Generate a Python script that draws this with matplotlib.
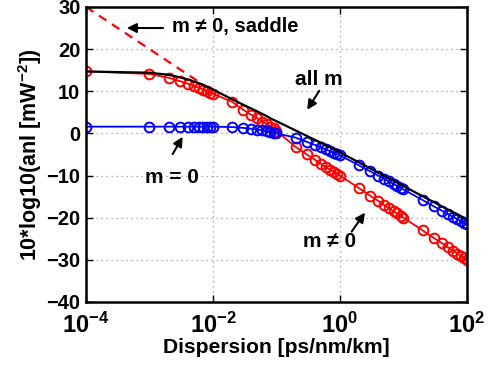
import numpy as np
import matplotlib
matplotlib.use("Agg")
import matplotlib.pyplot as plt
from matplotlib.ticker import NullLocator, FixedLocator

plt.rcParams['font.family'] = ['Liberation Sans', 'DejaVu Sans']
plt.rcParams['font.weight'] = 'bold'
plt.rcParams['mathtext.fontset'] = 'custom'
plt.rcParams['mathtext.rm'] = 'Liberation Sans:bold'
plt.rcParams['mathtext.it'] = 'Liberation Sans:bold'
plt.rcParams['mathtext.bf'] = 'Liberation Sans:bold'

# dispersion grid [ps/nm/km]
disp = np.array([1e-4,
                 1e-3, 2e-3, 3e-3, 4e-3, 5e-3, 6e-3, 7e-3, 8e-3, 9e-3,
                 1e-2, 2e-2, 3e-2, 4e-2, 5e-2, 6e-2, 7e-2, 8e-2, 9e-2,
                 1e-1, 2e-1, 3e-1, 4e-1, 5e-1, 6e-1, 7e-1, 8e-1, 9e-1,
                 1e0, 2e0, 3e0, 4e0, 5e0, 6e0, 7e0, 8e0, 9e0,
                 1e1, 2e1, 3e1, 4e1, 5e1, 6e1, 7e1, 8e1, 9e1,
                 1e2])

# 10*log10(anl) for all modes, m = 0 only, m != 0 only
all_m = [14.7,
         14.4, 13.9, 13.3, 12.8, 12.3, 11.9, 11.5, 11.1, 10.8,
         10.4, 8.1, 6.8, 5.9, 5.2, 4.6, 4.1, 3.6, 3.2,
         2.9, 0.7, -0.6, -1.5, -2.2, -2.8, -3.3, -3.7, -4.1,
         -4.5, -6.9, -8.3, -9.3, -10.1, -10.7, -11.2, -11.7, -12.1,
         -12.5, -14.9, -16.3, -17.3, -18.1, -18.7, -19.2, -19.7, -20.1,
         -20.5]
m_zero = [1.6,
          1.6, 1.6, 1.6, 1.6, 1.6, 1.6, 1.6, 1.6, 1.6,
          1.6, 1.5, 1.3, 1.1, 0.9, 0.7, 0.5, 0.3, 0.2,
          0.0, -1.0, -2.0, -2.7, -3.3, -3.8, -4.2, -4.6, -4.9,
          -5.2, -7.6, -9.0, -10.0, -10.8, -11.4, -12.0, -12.5, -12.9,
          -13.3, -15.8, -17.3, -18.3, -19.1, -19.8, -20.3, -20.8, -21.2,
          -21.5]
m_nonzero = [14.7,
             14.1, 13.2, 12.4, 11.8, 11.2, 10.8, 10.4, 10.0, 9.7,
             9.4, 7.5, 5.6, 4.4, 3.6, 2.8, 2.2, 1.6, 1.2,
             0.6, -3.2, -5.0, -6.2, -7.2, -8.0, -8.6, -9.1, -9.6,
             -10.0, -13.0, -14.8, -16.0, -17.0, -17.8, -18.5, -19.0, -19.5,
             -20.0, -23.0, -24.8, -26.0, -27.0, -27.8, -28.5, -29.0, -29.5,
             -30.0]

# saddle-point asymptote for m != 0
saddle_disp = [1e-4, 1e-2]
saddle_val = [30, 10]

fig = plt.figure(figsize=(4.92, 3.66), dpi=100)
ax = fig.add_axes([0.1748, 0.1749, 0.949 - 0.1748, 0.981 - 0.1749])

ax.plot(saddle_disp, saddle_val, '--', color='red', lw=1.6, dashes=(4, 3))
ax.plot(disp, m_nonzero, '-o', color='red', lw=1.3, ms=7, mfc='none', mew=1.4)
ax.plot(disp, m_zero, '-o', color='blue', lw=1.3, ms=7, mfc='none', mew=1.4)
ax.plot(disp, all_m, '-', color='black', lw=1.6)

ax.set_xscale('log')
ax.set_xlim(1e-4, 1e2)
ax.set_ylim(-40, 30)
ax.xaxis.set_major_locator(FixedLocator([1e-4, 1e-2, 1e0, 1e2]))
ax.xaxis.set_minor_locator(NullLocator())
ax.set_xticklabels([r'$10^{-4}$', r'$10^{-2}$', r'$10^{0}$', r'$10^{2}$'])
ax.set_yticks(np.arange(-40, 31, 10))
ax.tick_params(direction='in', length=5, width=1, top=True, right=True)
ax.tick_params(axis='x', labelsize=17, pad=8)
ax.tick_params(axis='y', labelsize=14.5, pad=4)
ax.grid(True, linestyle=(0, (1, 3)), color='#999999', lw=0.9)
for s in ax.spines.values():
    s.set_linewidth(1.8)

ax.set_xlabel('Dispersion [ps/nm/km]', fontsize=15.2, fontweight='bold', labelpad=0)
ax.set_ylabel(r'10*log10(anl [mW$^{-2}$])', fontsize=15.5, fontweight='bold', labelpad=2)

arrow = dict(arrowstyle='-|>', color='black', lw=1.5, mutation_scale=14,
             shrinkA=0, shrinkB=0)
ax.annotate('', xy=(4.4e-4, 25.0), xytext=(1.63e-3, 25.0), arrowprops=arrow)
ax.text(2.26e-3, 24.1, 'm \u2260 0, saddle', fontsize=14.5, fontweight='bold',
        ha='left', va='baseline')

ax.annotate('', xy=(0.305, 5.6), xytext=(0.472, 10.1), arrowprops=arrow)
ax.text(0.458, 11.5, 'all m', fontsize=15, fontweight='bold', ha='center', va='baseline')

ax.annotate('', xy=(3.33e-3, -0.8), xytext=(2.32e-3, -4.9), arrowprops=arrow)
ax.text(2.24e-3, -11.8, 'm = 0', fontsize=15, fontweight='bold', ha='center', va='baseline')

ax.annotate('', xy=(2.48, -18.8), xytext=(1.53, -23.3), arrowprops=arrow)
ax.text(0.697, -26.9, 'm \u2260 0', fontsize=15, fontweight='bold', ha='center', va='baseline')

fig.savefig('out.png', dpi=100)
